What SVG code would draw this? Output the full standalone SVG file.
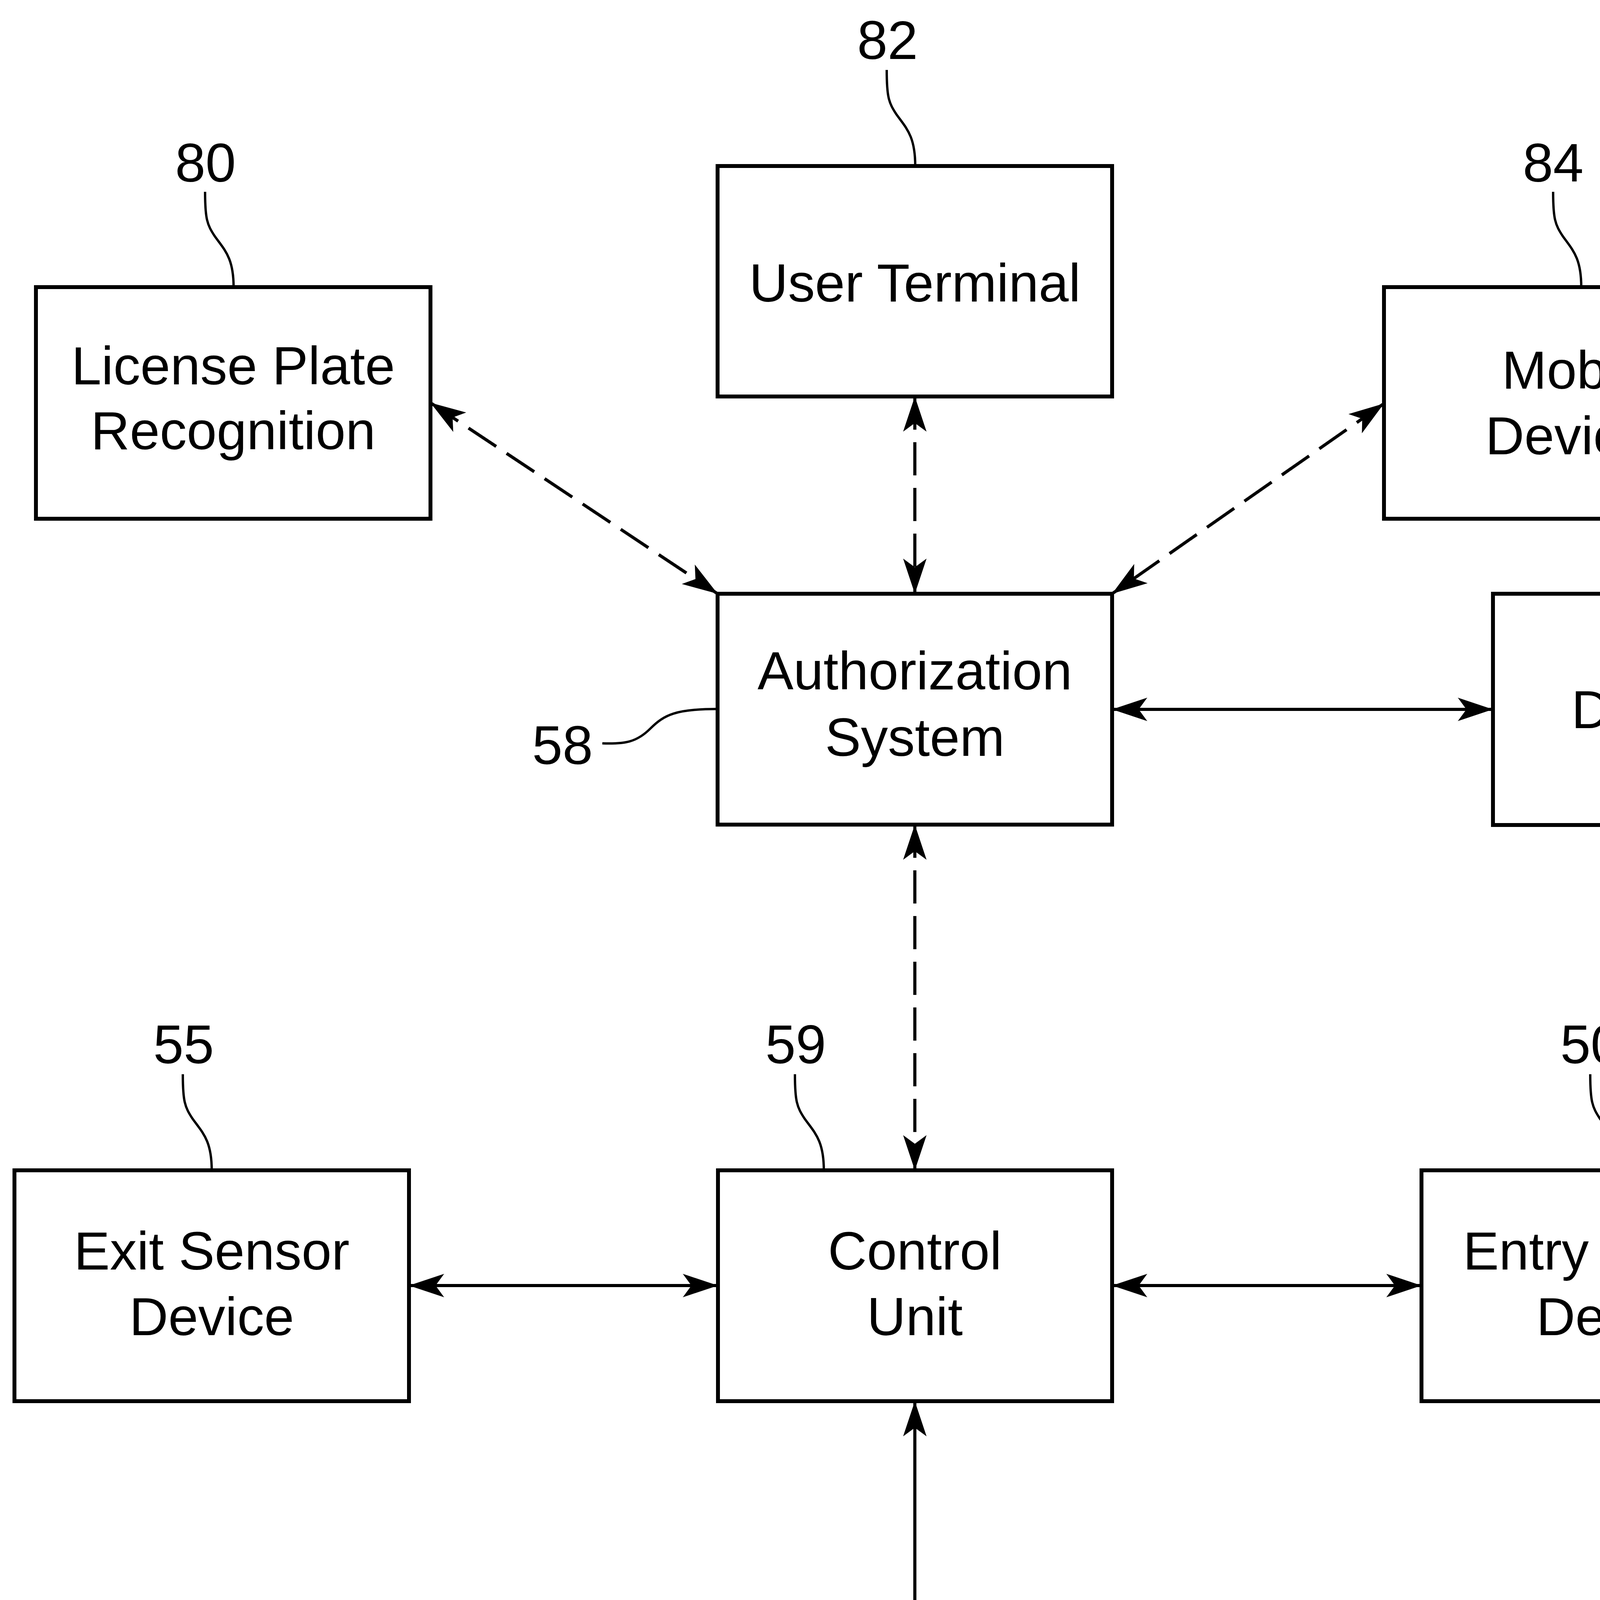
<svg xmlns="http://www.w3.org/2000/svg" width="4801" height="5500" viewBox="0 0 4801 5500">
<style>
.box{fill:#fff;stroke:#000;stroke-width:10}
.lbl{font-family:"Liberation Sans",Arial,sans-serif;font-size:138px;fill:#000;text-anchor:middle}
.num{font-family:"Liberation Sans",Arial,sans-serif;font-size:140px;fill:#000;text-anchor:middle}
.lead{fill:none;stroke:#000;stroke-width:6}
.con{fill:none;stroke:#000;stroke-width:8;marker-start:url(#ah);marker-end:url(#ah)}
.dash{stroke-dasharray:85 32}
</style>
<defs>
<marker id="ah" viewBox="-95 -35 100 70" refX="0" refY="0" markerWidth="100" markerHeight="70" markerUnits="userSpaceOnUse" orient="auto-start-reverse">
<path d="M0,0 L-90,-30 L-68,0 L-90,30 Z" fill="#000"/>
</marker>
</defs>
<rect width="4801" height="5500" fill="#fff"/>

<g id="connectors">
<line class="con dash" x1="1102" y1="1031" x2="1837" y2="1520"/>
<line class="con dash" x1="2342" y1="1015" x2="2342" y2="1520"/>
<line class="con dash" x1="3543" y1="1033" x2="2847" y2="1520"/>
<line class="con" x1="2847" y1="1816" x2="3822" y2="1816"/>
<line class="con dash" x1="2342" y1="2111" x2="2342" y2="2996"/>
<line class="con" x1="1047" y1="3291" x2="1838" y2="3291"/>
<line class="con" x1="2847" y1="3291" x2="3639" y2="3291"/>
<line class="con" x1="2342" y1="3587" x2="2342" y2="4524"/>
</g>

<g id="n80">
<rect class="box" x="92" y="735" width="1010" height="593"/>
<text class="lbl" x="597" y="984">License Plate</text>
<text class="lbl" x="597" y="1150">Recognition</text>
<text class="num" x="526" y="465">80</text>
<path class="lead" d="M525,491 C525,560 530,575 550,605 C575,640 598,660 598,735"/>
</g>

<g id="n82">
<rect class="box" x="1837" y="425" width="1010" height="590"/>
<text class="lbl" x="2342" y="772">User Terminal</text>
<text class="num" x="2272" y="151">82</text>
<path class="lead" d="M2270,179 C2270,248 2275,263 2295,293 C2320,328 2343,348 2343,425"/>
</g>

<g id="n84">
<rect class="box" x="3543" y="735" width="1010" height="593"/>
<text class="lbl" x="4048" y="995">Mobile</text>
<text class="lbl" x="4048" y="1163">Devices</text>
<text class="num" x="3976" y="465">84</text>
<path class="lead" d="M3976,491 C3976,560 3981,575 4001,605 C4026,640 4048,660 4048,735"/>
</g>

<g id="n58">
<rect class="box" x="1837" y="1520" width="1010" height="591"/>
<text class="lbl" x="2342" y="1765">Authorization</text>
<text class="lbl" x="2342" y="1935">System</text>
<text class="num" x="1440" y="1956">58</text>
<path class="lead" d="M1542,1903 C1600,1905 1630,1900 1665,1865 C1700,1830 1730,1815 1837,1815"/>
</g>

<g id="n86">
<rect class="box" x="3822" y="1520" width="1060" height="592"/>
<text class="lbl" x="4318" y="1864">Database</text>
<text class="num" x="4255" y="2482">86</text>
<path class="lead" d="M4326,2112 C4326,2180 4320,2195 4300,2220 C4270,2255 4253,2280 4253,2357"/>
</g>

<g id="n55">
<rect class="box" x="37" y="2996" width="1010" height="591"/>
<text class="lbl" x="542" y="3250">Exit Sensor</text>
<text class="lbl" x="542" y="3418">Device</text>
<text class="num" x="470" y="2722">55</text>
<path class="lead" d="M468,2750 C468,2819 473,2834 493,2864 C518,2899 542,2919 542,2996"/>
</g>

<g id="n59">
<rect class="box" x="1838" y="2996" width="1009" height="591"/>
<text class="lbl" x="2342" y="3250">Control</text>
<text class="lbl" x="2342" y="3418">Unit</text>
<text class="num" x="2037" y="2722">59</text>
<path class="lead" d="M2035,2750 C2035,2819 2040,2834 2060,2864 C2085,2899 2109,2919 2109,2996"/>
</g>

<g id="n50">
<rect class="box" x="3639" y="2996" width="1010" height="591"/>
<text class="lbl" x="4144" y="3250">Entry Sensor</text>
<text class="lbl" x="4144" y="3418">Device</text>
<text class="num" x="4072" y="2722">50</text>
<path class="lead" d="M4071,2750 C4071,2819 4076,2834 4096,2864 C4121,2899 4146,2919 4146,2996"/>
</g>

<g id="n35">
<rect class="box" x="1837" y="4524" width="1010" height="591"/>
<text class="lbl" x="2342" y="4868">Actuator</text>
<text class="num" x="2272" y="5488">35</text>
<path class="lead" d="M2345,5115 C2345,5180 2340,5200 2320,5225 C2290,5260 2270,5280 2270,5356"/>
</g>
</svg>
